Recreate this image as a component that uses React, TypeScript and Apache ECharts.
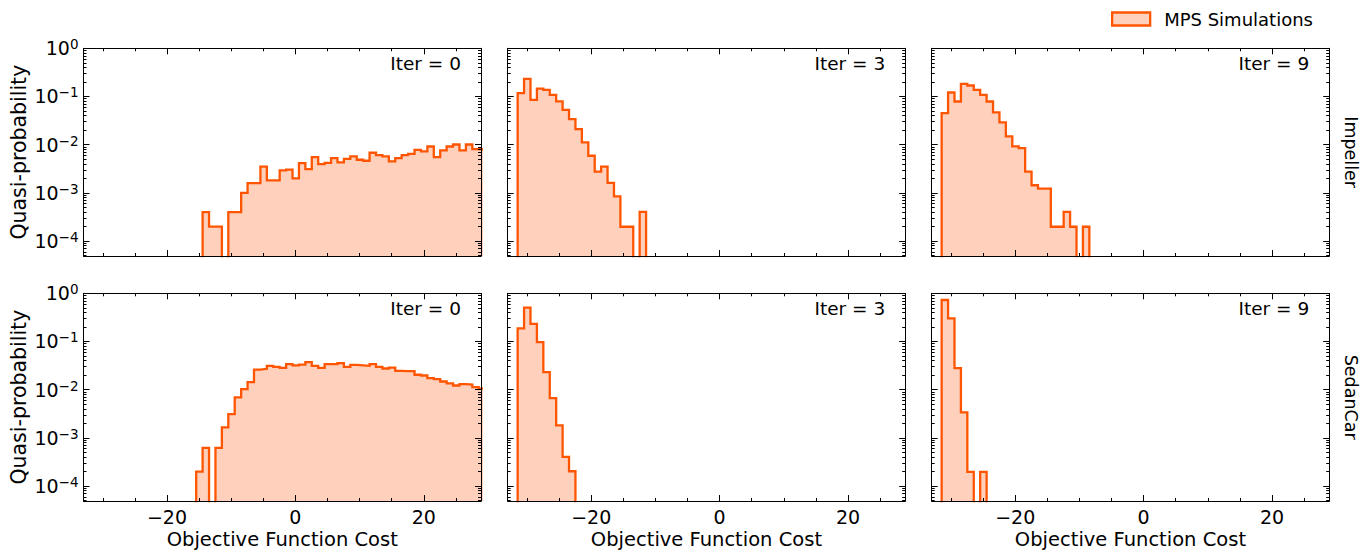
import React, { useEffect, useRef } from 'react';
import * as echarts from 'echarts';

// ---------------- data ----------------
const BIN_START = -31.45; // left edge of bin index 0
const BIN_WIDTH = 1;

// Impeller
const impellerIter0Start = 17;
const impellerIter0 = [
  4.0e-4, 2.0e-4, 2.0e-4, 0, 4.0e-4, 4.0e-4, 1.0e-3, 1.6e-3, 1.6e-3, 3.5e-3,
  1.82e-3, 1.82e-3, 2.92e-3, 3.03e-3, 2.0e-3, 4.16e-3, 3.12e-3, 5.5e-3, 3.96e-3, 4.2e-3,
  5.27e-3, 4.28e-3, 5.1e-3, 5.7e-3, 4.87e-3, 4.64e-3, 6.8e-3, 6.08e-3, 5.7e-3, 4.5e-3,
  5.27e-3, 6.08e-3, 6.47e-3, 7.83e-3, 7.24e-3, 9.18e-3, 5.53e-3, 7.6e-3, 9.18e-3, 1.01e-2,
  7.6e-3, 1.01e-2, 8.1e-3, 8.0e-3,
];
const impellerIter3Start = 0;
const impellerIter3 = [
  0.117, 0.232, 0.085, 0.146, 0.137, 0.108, 0.079, 0.053, 0.034, 0.0211,
  0.0112, 0.0059, 0.00276, 0.0035, 0.00161, 0.00085, 0.000198, 0.000198, 0, 0.000404,
];
const impellerIter9Start = 0;
const impellerIter9 = [
  0.0452, 0.121, 0.0788, 0.183, 0.169, 0.137, 0.108, 0.0788, 0.0467, 0.029,
  0.0149, 0.00924, 0.0085, 0.00276, 0.00144, 0.00123, 0.00123, 0.000198, 0.000198, 0.000404,
  0.000198, 0, 0.000198,
];

// SedanCar
const sedanIter0Start = 16;
const sedanIter0 = [
  2.0e-4, 6.2e-4, 0, 6.2e-4, 1.65e-3, 3.12e-3, 6.9e-3, 1.03e-2, 1.43e-2, 2.62e-2,
  2.71e-2, 3.13e-2, 2.98e-2, 2.84e-2, 3.39e-2, 3.18e-2, 3.3e-2, 3.72e-2, 3.13e-2, 2.84e-2,
  3.39e-2, 3.39e-2, 3.55e-2, 2.98e-2, 3.28e-2, 3.2e-2, 3.13e-2, 3.39e-2, 2.98e-2, 2.75e-2,
  2.88e-2, 2.46e-2, 2.42e-2, 2.42e-2, 2.04e-2, 1.97e-2, 1.74e-2, 1.66e-2, 1.48e-2, 1.35e-2,
  1.22e-2, 1.3e-2, 1.27e-2, 1.13e-2, 1.05e-2,
];
const sedanIter3Start = 0;
const sedanIter3 = [0.188, 0.504, 0.231, 0.0966, 0.0231, 0.0067, 0.00182, 0.000403, 0.000203];
const sedanIter9Start = 0;
const sedanIter9 = [0.726, 0.303, 0.028, 0.00338, 0.000197, 0, 0.000197];

const rowNames = ['Impeller', 'SedanCar'];
const iterLabels = ['Iter = 0', 'Iter = 3', 'Iter = 9'];
const panels = [
  [impellerIter0Start, impellerIter0],
  [impellerIter3Start, impellerIter3],
  [impellerIter9Start, impellerIter9],
  [sedanIter0Start, sedanIter0],
  [sedanIter3Start, sedanIter3],
  [sedanIter9Start, sedanIter9],
] as [number, number[]][];

const xMajorTicks = [-20, 0, 20];
const xMinorTicks = [-30, -25, -15, -10, -5, 5, 10, 15, 25];
const yMajorTicks = [1e-4, 1e-3, 1e-2, 1e-1, 1];
const yMinorTicks: number[] = [];
for (let e = -5; e < 0; e++) {
  for (let m = 2; m <= 9; m++) {
    const v = m * Math.pow(10, e);
    if (v >= 4.9e-5 && v < 1) yMinorTicks.push(v);
  }
}

const SERIES_NAME = 'MPS Simulations';
const X_LABEL = 'Objective Function Cost';
const Y_LABEL = 'Quasi-probability';

// ---------------- layout / style ----------------
const X_MIN = -33.0;
const X_MAX = 28.9;
const Y_MIN = 4.9e-5;
const Y_MAX = 1;
const GRID_LEFTS = [83.5, 507.7, 931.7];
const GRID_TOPS = [48.3, 293.3];
const GRID_W = 397.5;
const GRID_H = 207.7;
const EDGE = '#FF5500';
const FILL = '#FFD1BC';
const FONT = 'DejaVu Sans';
const FLOOR = 1e-12;

function stepPoints(start: number, vals: number[]): [number, number][] {
  const pts: [number, number][] = [];
  const e0 = BIN_START + start * BIN_WIDTH;
  pts.push([e0, FLOOR]);
  vals.forEach((v, i) => {
    const y = v > 0 ? v : FLOOR;
    const a = BIN_START + (start + i) * BIN_WIDTH;
    pts.push([a, y], [a + BIN_WIDTH, y]);
  });
  pts.push([BIN_START + (start + vals.length) * BIN_WIDTH, FLOOR]);
  return pts;
}

const fmtX = (v: number) => (v < 0 ? '\u2212' + Math.abs(v) : String(v));
const fmtY = (v: number) => {
  const e = Math.round(Math.log10(v));
  const s = e < 0 ? '\u2212' + -e : String(e);
  return `{b|10}{s|${s}}`;
};

function buildOption() {
  const grids: any[] = [];
  const xAxes: any[] = [];
  const yAxes: any[] = [];
  const series: any[] = [];
  const graphic: any[] = [];
  const line = { lineStyle: { color: '#000', width: 1 } };
  const hiddenLine = { show: false, onZero: false };
  const shownLine = { show: true, onZero: false, ...line };

  for (let r = 0; r < 2; r++) {
    for (let c = 0; c < 3; c++) {
      const g = r * 3 + c;
      grids.push({ left: GRID_LEFTS[c], top: GRID_TOPS[r], width: GRID_W, height: GRID_H, containLabel: false });
      const xBase = {
        gridIndex: g, type: 'value', min: X_MIN, max: X_MAX, z: 5,
        splitLine: { show: false }, axisLine: hiddenLine,
        axisLabel: { show: false },
      };
      // bottom major
      xAxes.push({
        ...xBase, position: 'bottom',
        axisLine: shownLine,
        axisTick: { show: true, inside: true, length: 6, customValues: xMajorTicks, ...line },
        axisLabel: {
          show: r === 1, customValues: xMajorTicks, formatter: fmtX, margin: 6,
          fontSize: 19, fontFamily: FONT, color: '#000',
        },
        name: r === 1 ? X_LABEL : '', nameLocation: 'middle', nameGap: 28,
        nameTextStyle: { fontSize: 19.5, fontFamily: FONT, color: '#000' },
      });
      // bottom minor
      xAxes.push({
        ...xBase, position: 'bottom',
        axisTick: { show: true, inside: true, length: 3, customValues: xMinorTicks, ...line },
      });
      // top major
      xAxes.push({
        ...xBase, position: 'top',
        axisLine: shownLine,
        axisTick: { show: true, inside: true, length: 6, customValues: xMajorTicks, ...line },
      });
      // top minor
      xAxes.push({
        ...xBase, position: 'top',
        axisTick: { show: true, inside: true, length: 3, customValues: xMinorTicks, ...line },
      });

      const yBase = {
        gridIndex: g, type: 'log', logBase: 10, min: Y_MIN, max: Y_MAX, z: 5,
        splitLine: { show: false }, axisLine: hiddenLine,
        axisLabel: { show: false },
      };
      yAxes.push({
        ...yBase, position: 'left',
        axisLine: shownLine,
        axisTick: { show: true, inside: true, length: 6, customValues: yMajorTicks, ...line },
        axisLabel: {
          show: c === 0, customValues: yMajorTicks, formatter: fmtY, margin: 5,
          rich: {
            b: { fontSize: 19, fontFamily: FONT, color: '#000', lineHeight: 22 },
            s: { fontSize: 13.5, fontFamily: FONT, color: '#000', verticalAlign: 'top', lineHeight: 13 },
          },
        },
        name: c === 0 ? Y_LABEL : '', nameLocation: 'middle', nameGap: 54,
        nameTextStyle: { fontSize: 20.5, fontFamily: FONT, color: '#000' },
      });
      yAxes.push({
        ...yBase, position: 'left',
        axisTick: { show: true, inside: true, length: 3, customValues: yMinorTicks, ...line },
      });
      yAxes.push({
        ...yBase, position: 'right',
        axisLine: shownLine,
        axisTick: { show: true, inside: true, length: 6, customValues: yMajorTicks, ...line },
      });
      yAxes.push({
        ...yBase, position: 'right',
        axisTick: { show: true, inside: true, length: 3, customValues: yMinorTicks, ...line },
      });

      const [start, vals] = panels[g];
      series.push({
        name: SERIES_NAME, type: 'line', xAxisIndex: g * 4, yAxisIndex: g * 4,
        data: stepPoints(start, vals), symbol: 'none', clip: true, silent: true,
        lineStyle: { color: EDGE, width: 2.3, join: 'miter' },
        itemStyle: { color: EDGE },
        areaStyle: { color: FILL, opacity: 1, origin: 'start' },
        z: 2,
      });

      graphic.push({
        type: 'text', x: GRID_LEFTS[c] + GRID_W - 20, y: GRID_TOPS[r] + 15.5, z: 10,
        style: { text: iterLabels[c], fontSize: 18.5, fontFamily: FONT, fill: '#000', align: 'right', verticalAlign: 'middle' },
      });
    }
    graphic.push({
      type: 'text', x: 1350.5, y: GRID_TOPS[r] + GRID_H / 2, rotation: -Math.PI / 2, z: 10,
      style: { text: rowNames[r], fontSize: 17.5, fontFamily: FONT, fill: '#000', align: 'center', verticalAlign: 'middle' },
    });
  }

  return {
    animation: false,
    backgroundColor: '#fff',
    textStyle: { fontFamily: FONT },
    legend: {
      left: 1111, top: 10, padding: 0, itemWidth: 38, itemHeight: 13,
      textStyle: { fontSize: 18, fontFamily: FONT, color: '#000', padding: [0, 0, 0, 9] },
      data: [{ name: SERIES_NAME, icon: 'rect', itemStyle: { color: FILL, borderColor: EDGE, borderWidth: 2.3 } }],
      selectedMode: false,
    },
    grid: grids,
    xAxis: xAxes,
    yAxis: yAxes,
    series,
    graphic,
  };
}

export default function App() {
  const ref = useRef<HTMLDivElement>(null);
  useEffect(() => {
    const chart = echarts.init(ref.current!, null, { renderer: 'svg' });
    chart.setOption(buildOption() as any);
    return () => chart.dispose();
  }, []);
  return <div ref={ref} style={{ position: 'absolute', left: 0, top: 0, width: 1371, height: 552 }} />;
}
